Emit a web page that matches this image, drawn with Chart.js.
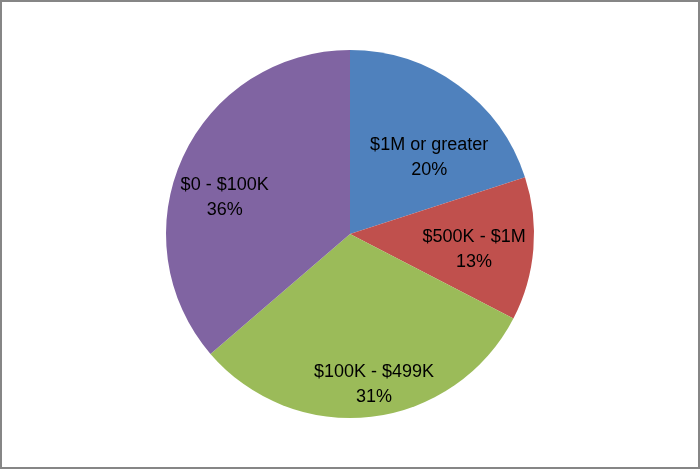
<!DOCTYPE html>
<html>
<head>
<meta charset="utf-8">
<script src="https://cdn.jsdelivr.net/npm/chart.js@4/dist/chart.umd.min.js"></script>
<style>
  html, body { margin: 0; padding: 0; background: #fff; }
  #wrap { position: relative; width: 700px; height: 469px; }
  canvas { display: block; }
</style>
</head>
<body>
<div id="wrap"><canvas id="c" width="700" height="469"></canvas></div>
<script>
const categories = ["$1M or greater", "$500K - $1M", "$100K - $499K", "$0 - $100K"];
const values = [20.0, 12.6, 31.1, 36.3];
const colors = ["#4F81BD", "#C0504D", "#9BBB59", "#8064A2"];

// label placement (radius fraction, angle shift in degrees) per slice
const labelRadius = [0.60, 0.68, 0.83, 0.71];
const labelShift = [9.8, 2.6, -2.4, -8.3];

const labelPlugin = {
  id: 'sliceLabels',
  afterDatasetsDraw(chart) {
    const ctx = chart.ctx;
    const meta = chart.getDatasetMeta(0);
    const total = values.reduce((a, b) => a + b, 0);
    ctx.save();
    ctx.font = '18px "Liberation Sans", Arial, sans-serif';
    ctx.fillStyle = '#000';
    ctx.textAlign = 'center';
    ctx.textBaseline = 'middle';
    meta.data.forEach((arc, i) => {
      const p = arc.getProps(['x', 'y', 'startAngle', 'endAngle', 'outerRadius'], true);
      const mid = (p.startAngle + p.endAngle) / 2 + labelShift[i] * Math.PI / 180;
      const r = p.outerRadius * labelRadius[i];
      const cx = p.x + Math.cos(mid) * r;
      const cy = p.y + Math.sin(mid) * r;
      const pct = Math.round(values[i] / total * 100) + '%';
      ctx.fillText(categories[i], cx, cy - 12.5);
      ctx.fillText(pct, cx, cy + 12.5);
    });
    ctx.restore();
  },
  afterDraw(chart) {
    const ctx = chart.ctx;
    ctx.save();
    ctx.strokeStyle = '#868686';
    ctx.lineWidth = 2;
    ctx.strokeRect(1, 1, chart.width - 2, chart.height - 2);
    ctx.restore();
  }
};

new Chart(document.getElementById('c'), {
  type: 'pie',
  data: {
    labels: categories,
    datasets: [{
      data: values,
      backgroundColor: colors,
      borderWidth: 0
    }]
  },
  options: {
    responsive: false,
    animation: false,
    layout: { padding: { top: 50, bottom: 51, left: 0, right: 0 } },
    plugins: {
      legend: { display: false },
      tooltip: { enabled: false }
    }
  },
  plugins: [labelPlugin]
});
</script>
</body>
</html>
